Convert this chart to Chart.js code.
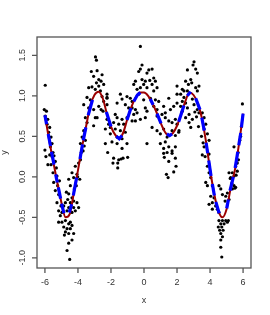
<!DOCTYPE html>
<html>
<head>
<meta charset="utf-8">
<script src="https://cdn.jsdelivr.net/npm/chart.js@4.4.1/dist/chart.umd.min.js"></script>
<style>
  html, body { margin: 0; padding: 0; background: #fff; }
</style>
</head>
<body>
<canvas id="fitPlot" width="270" height="315"></canvas>
<script>
// axis ticks and limits
const xTicks = [-6, -4, -2, 0, 2, 4, 6];
const yTicks = [-1.0, -0.5, 0.0, 0.5, 1.0, 1.5];
const xRange = [-6.48, 6.48];
const yRange = [-1.126, 1.726];

// fitted curve (dark red)
const curveX = [-6.0, -5.75, -5.5, -5.25, -5.0, -4.75, -4.5, -4.25, -4.0, -3.75, -3.5, -3.25, -3.0, -2.75, -2.5, -2.25, -2.0, -1.75, -1.5, -1.25, -1.0, -0.75, -0.5, -0.25, 0.0,
  0.25, 0.5, 0.75, 1.0, 1.25, 1.5, 1.75, 2.0, 2.25, 2.5, 2.75, 3.0, 3.25, 3.5, 3.75, 4.0, 4.25, 4.5, 4.75, 5.0, 5.25, 5.5, 5.75, 6.0];
const curveY = [0.76, 0.46, 0.19, -0.07, -0.32, -0.50, -0.46, -0.20, 0.08, 0.37, 0.63, 0.88, 1.01, 1.05, 0.97, 0.78, 0.62, 0.52, 0.47, 0.55, 0.72, 0.87, 0.98, 1.04, 1.04,
  1.00, 0.91, 0.80, 0.67, 0.56, 0.51, 0.54, 0.63, 0.77, 0.93, 1.04, 1.01, 0.91, 0.73, 0.44, 0.09, -0.21, -0.42, -0.50, -0.40, -0.14, 0.08, 0.40, 0.78];

// predicted points (blue), runs separated by null
const blueX = [-6.0, -5.9, null, -5.8, -5.66, null, -5.6, -5.45, null, -5.35, -5.25, null, -5.19, -5.05, null, -4.99, -4.85, null,
  -4.53, -4.38, null, -4.28, -4.08, null, -3.88, -3.72, null, -3.68, -3.52, null, -3.38, -3.12, null, -2.28, -2.0, null,
  -1.68, -1.5, -1.33, null, -1.03, -0.79, null, -0.62, -0.4, -0.22, null, 0.38, 0.55, null, 0.79, 1.03, null,
  1.39, 1.55, 1.70, null, 2.1, 2.42, null, 2.62, 2.83, null, 3.13, 3.39, null, 3.5, 3.65, null, 3.76, 3.86, null,
  3.92, 4.06, null, 4.14, 4.26, null, 4.35, 4.55, null, 5.01, 5.11, null, 5.21, 5.41, null, 5.52, 5.68, null,
  5.74, 5.86, null, 5.90, 6.0];
const blueY = [0.76, 0.65, null, 0.53, 0.38, null, 0.31, 0.15, null, 0.03, -0.07, null, -0.13, -0.27, null, -0.33, -0.45, null,
  -0.44, -0.34, null, -0.23, -0.01, null, 0.22, 0.40, null, 0.45, 0.61, null, 0.76, 0.95, null, 0.80, 0.62, null,
  0.50, 0.47, 0.51, null, 0.70, 0.85, null, 0.93, 1.01, 1.04, null, 0.96, 0.89, null, 0.78, 0.66, null,
  0.53, 0.51, 0.53, null, 0.68, 0.88, null, 1.0, 1.05, null, 0.97, 0.83, null, 0.73, 0.57, null, 0.42, 0.29, null,
  0.20, 0.01, null, -0.09, -0.23, null, -0.31, -0.45, null, -0.39, -0.28, null, -0.17, 0.0, null, 0.11, 0.31, null,
  0.39, 0.54, null, 0.61, 0.78];

// observed data (black)
const obsX = [
  -5.98, -6.04, -5.91, -5.98, -5.83, -5.87, -5.71, -5.77, -5.63, -5.57, -5.67, -5.51,
  -5.71, -5.57, -5.37, -5.63, -5.31, -5.51, -5.27, -5.47, -5.23, -5.37, -5.17, -5.27, -5.03, -5.17, -4.97, -5.07,
  -4.56, -4.46, -4.70, -4.56, -4.62, -4.76, -4.46, -4.36, -4.26, -4.86, -4.56, -4.26, -4.66, -4.36, -4.06, -3.96, -4.16,
  -4.36, -4.26, -4.06, -3.96, -3.85, -4.16, -4.10, -4.22, -3.89,
  -5.17, -4.97, -4.76, -4.56, -4.46, -4.86, -4.66, -4.46, -4.36, -4.76, -4.56, -4.26, -4.36, -4.56, -4.66, -4.50, -4.82,
  -6.00, -5.94, -5.82, -5.45, -5.12, -4.02, -3.80, -3.62,
  -2.94, -2.88, -3.19, -2.84, -3.05, -2.74, -2.60, -2.88, -2.54,
  -3.35, -3.15, -2.74, -2.95, -2.44, -2.64, -3.45, -3.25, -2.54, -2.44, -2.24,
  -3.65, -3.35, -2.74, -2.60, -2.48, -3.05, -2.84,
  -3.55, -3.45, -2.95, -3.05, -2.24, -2.14, -2.34,
  -3.65, -3.75, -3.55, -3.85, -3.69, -2.34, -2.20,
  -0.22, -0.12, -0.22, -0.32, 0.29, 0.49, 0.18,
  -0.52, -0.12, 0.08, 0.35, 0.59, 0.69, -0.62, -0.02, 0.49, 0.18,
  -0.42, -0.22, 0.59, 0.79, -0.32,
  -1.03, -0.83, -0.72, -0.02, 0.39, 0.69, 0.89, 1.50, 2.00, 2.00,
  -2.24, -2.24, -2.24, -1.43, -1.33, -1.63, -1.13, -0.93, -0.72, -0.52, -0.62, -0.42, 0.08, 0.18, 0.59, 0.79, 1.19, 1.29, 1.60, 1.80, 2.00,
  -1.74, -1.63, -1.33, -1.84, -1.53, -1.23, -1.03, -0.72, -0.52, -0.22, 0.08, 0.79, 1.09, 1.29, 1.50, 1.70, 1.90, 2.00,
  -2.04, -1.74, -1.43, -1.13, -2.04, -1.63, -1.33, 0.49, 0.79, 0.99, 1.19, 1.40, 1.70, 1.90, 2.10,
  -1.94, -1.63, -1.33, -1.03, 0.18, 0.99, 1.29, 1.50, 1.19, 1.40, 1.70, 1.90,
  -1.84, -1.53, -1.39, -1.27, -0.99, -1.88, -1.59, -1.59,
  1.19, 1.70, 1.23, 1.90, 1.50, 1.94, 1.80, 1.36, 1.46,
  3.03, 2.97, 2.63, 3.13, 3.23,
  2.52, 2.83, 2.89, 2.69, 2.32, 2.42, 2.63, 3.13, 3.23, 3.33,
  2.22, 2.42, 2.32, 2.52, 2.93, 3.03, 3.23, 3.33, 2.22, 2.63,
  2.73, 2.32, 2.52, 2.93, 3.53, 3.64, 3.74, 2.73, 2.83, 2.12, 3.64, 3.84, 3.94,
  3.64, 3.94, 5.45, 5.96,
  3.08, 3.18, 3.30, 3.48, 3.58, 5.15, 5.22, 5.32, 5.50, 5.58,
  3.53, 3.70, 3.84, 3.94, 4.04, 3.74, 3.84, 4.14, 4.04, 4.24, 4.14, 3.94, 4.34, 4.14, 4.44, 4.54,
  4.54, 4.65, 4.75, 4.95, 5.05, 4.91, 5.15, 5.35, 5.45, 5.55, 5.25, 5.35, 5.55, 5.65, 5.72, 5.45, 5.65,
  4.54, 4.75, 4.95, 5.11, 4.65, 4.85, 4.50, 4.71, 4.58, 4.79, 4.65, 4.75, 4.65, 4.65, 4.71, 5.05,
  5.90, 5.85, 5.80, 5.70
];
const obsY = [
  1.13, 0.83, 0.81, 0.75, 0.71, 0.65, 0.61, 0.55, 0.49, 0.41, 0.37, 0.30,
  0.27, 0.25, 0.19, 0.15, 0.11, 0.05, 0.01, -0.07, -0.11, -0.17, -0.22, -0.32, -0.36, -0.42, -0.44, -0.48,
  -0.03, -0.11, -0.19, -0.21, -0.28, -0.32, -0.32, -0.26, -0.30, -0.36, -0.38, -0.38, -0.42, -0.44, -0.32, -0.38, -0.42,
  0.05, -0.01, 0.03, 0.17, 0.21, 0.13, -0.11, -0.15, -0.03,
  -0.56, -0.56, -0.54, -0.58, -0.56, -0.62, -0.64, -0.64, -0.60, -0.68, -0.70, -0.70, -0.78, -0.82, -0.91, -1.02, -0.72,
  0.33, 0.25, 0.15, 0.26, -0.05, 0.00, 0.30, 0.38,
  1.48, 1.44, 1.30, 1.31, 1.24, 1.20, 1.18, 1.16, 1.26,
  1.10, 1.11, 1.12, 1.08, 1.14, 1.06, 0.98, 0.95, 0.99, 0.93, 0.98,
  0.89, 0.85, 0.87, 0.83, 0.81, 0.83, 0.73,
  0.73, 0.67, 0.73, 0.63, 0.71, 0.65, 0.59,
  0.57, 0.49, 0.45, 0.41, 0.32, 0.41, 0.30,
  1.61, 1.38, 1.33, 1.30, 1.32, 1.33, 1.28,
  1.18, 1.20, 1.18, 1.19, 1.22, 1.18, 1.14, 1.14, 1.14, 1.10,
  1.08, 1.10, 1.06, 1.10, 1.02,
  0.99, 0.97, 0.93, 0.95, 0.97, 0.95, 0.93, 0.97, 1.12, 1.02,
  1.02, 0.97, 0.89, 1.02, 0.96, 0.91, 0.89, 0.85, 0.85, 0.83, 0.77, 0.79, 0.85, 0.81, 0.87, 0.83, 0.87, 0.79, 0.83, 0.87, 0.91,
  0.77, 0.73, 0.71, 0.67, 0.65, 0.65, 0.73, 0.69, 0.69, 0.71, 0.73, 0.75, 0.77, 0.73, 0.69, 0.67, 0.71, 0.65,
  0.61, 0.59, 0.57, 0.55, 0.53, 0.49, 0.47, 0.61, 0.57, 0.53, 0.59, 0.49, 0.57, 0.51, 0.55,
  0.43, 0.41, 0.35, 0.41, 0.41, 0.41, 0.43, 0.37, 0.35, 0.30, 0.32, 0.37,
  0.23, 0.21, 0.22, 0.23, 0.24, 0.17, 0.17, 0.11,
  0.29, 0.29, 0.24, 0.23, 0.19, 0.13, 0.06, 0.03, -0.01,
  1.42, 1.38, 1.32, 1.33, 1.28,
  1.18, 1.20, 1.16, 1.14, 1.08, 1.06, 1.06, 1.10, 1.06, 1.12,
  1.02, 0.98, 0.93, 0.91, 0.96, 0.89, 0.83, 0.79, 0.87, 0.85,
  0.77, 0.81, 0.73, 0.71, 0.79, 0.73, 0.65, 0.67, 0.61, 0.57, 0.59, 0.53, 0.45,
  0.37, 0.28, 0.37, 0.90,
  0.80, 0.74, 0.62, 0.50, 0.42, 0.05, -0.02, -0.08, -0.14, 0.02,
  0.27, 0.25, 0.13, 0.05, -0.01, -0.07, -0.11, -0.11, -0.24, -0.26, -0.32, -0.34, -0.36, -0.40, -0.40, -0.44,
  -0.11, -0.15, -0.22, -0.24, -0.20, -0.30, -0.28, -0.15, -0.11, -0.13, -0.01, 0.05, 0.13, 0.17, 0.21, 0.01, 0.07,
  -0.54, -0.54, -0.54, -0.54, -0.58, -0.58, -0.62, -0.62, -0.66, -0.66, -0.70, -0.74, -0.78, -0.87, -0.99, -0.56,
  0.62, 0.50, 0.45, 0.30
];

const toPoints = (xs, ys) => xs.map((x, i) => ({ x, y: ys[i] }));

// split the null-separated blue arrays into one dataset per run
function blueRuns() {
  const runs = [];
  let cur = [];
  blueX.forEach((x, i) => {
    if (x === null) { runs.push(cur); cur = []; }
    else cur.push({ x, y: blueY[i] });
  });
  if (cur.length) runs.push(cur);
  return runs.map(run => ({
    label: 'predicted',
    data: run,
    showLine: true,
    borderColor: '#0000ff',
    borderWidth: 3.2,
    borderCapStyle: 'butt',
    pointRadius: 0,
    tension: 0,
    order: 0,
  }));
}

const fmtTick = (v, digits) => v.toFixed(digits);

// base-graphics style box, ticks and labels
const baseAxes = {
  id: 'baseAxes',
  afterDraw(chart) {
    const { ctx, chartArea: a, scales: { x, y } } = chart;
    ctx.save();
    ctx.strokeStyle = '#555';
    ctx.lineWidth = 1.3;
    ctx.strokeRect(a.left, a.top, a.right - a.left, a.bottom - a.top);

    ctx.fillStyle = '#333';
    ctx.font = '9px "Liberation Sans", Arial, sans-serif';
    ctx.textAlign = 'center';
    ctx.textBaseline = 'middle';

    ctx.beginPath();
    xTicks.forEach(v => {
      const px = x.getPixelForValue(v);
      ctx.moveTo(px, a.bottom);
      ctx.lineTo(px, a.bottom + 5);
      ctx.fillText(fmtTick(v, 0), px, a.bottom + 15);
    });
    yTicks.forEach(v => {
      const py = y.getPixelForValue(v);
      ctx.moveTo(a.left, py);
      ctx.lineTo(a.left - 5, py);
      ctx.save();
      ctx.translate(a.left - 14, py);
      ctx.rotate(-Math.PI / 2);
      ctx.fillText(fmtTick(v, 1), 0, 0);
      ctx.restore();
    });
    ctx.stroke();

    // axis titles
    ctx.fillText('x', (a.left + a.right) / 2, a.bottom + 33);
    ctx.save();
    ctx.translate(a.left - 32, (a.top + a.bottom) / 2);
    ctx.rotate(-Math.PI / 2);
    ctx.fillText('y', 0, 0);
    ctx.restore();
    ctx.restore();
  }
};

new Chart(document.getElementById('fitPlot'), {
  type: 'scatter',
  data: {
    datasets: [
      ...blueRuns(),
      {
        label: 'fit',
        data: toPoints(curveX, curveY),
        showLine: true,
        borderColor: '#9b0000',
        borderWidth: 2,
        pointRadius: 0,
        cubicInterpolationMode: 'monotone',
        order: 1,
      },
      {
        label: 'observed',
        data: toPoints(obsX, obsY),
        pointRadius: 1.6,
        pointBorderWidth: 0,
        backgroundColor: '#000',
        borderColor: '#000',
        order: 2,
      },
    ],
  },
  options: {
    responsive: false,
    animation: false,
    events: [],
    layout: { padding: { left: 37, top: 37, right: 19, bottom: 47 } },
    plugins: { legend: { display: false }, tooltip: { enabled: false } },
    scales: {
      x: { type: 'linear', min: xRange[0], max: xRange[1], display: false },
      y: { type: 'linear', min: yRange[0], max: yRange[1], display: false },
    },
  },
  plugins: [baseAxes],
});
</script>
</body>
</html>
